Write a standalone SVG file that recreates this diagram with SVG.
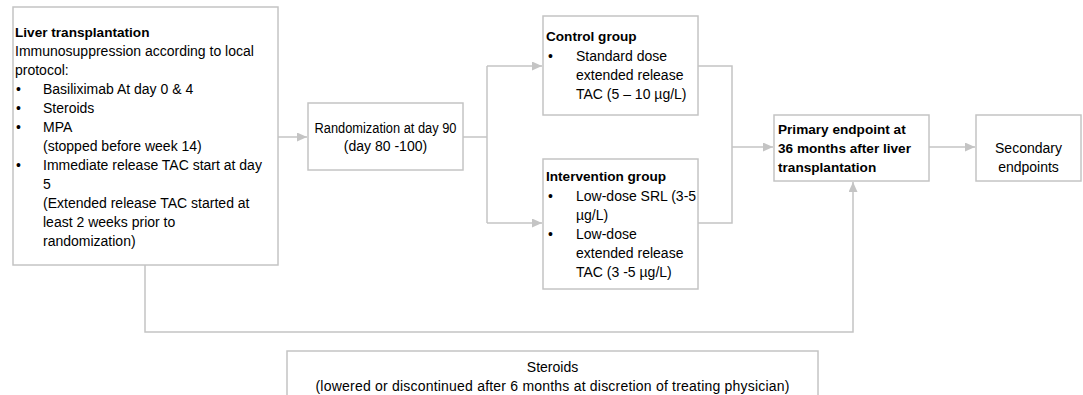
<svg xmlns="http://www.w3.org/2000/svg" width="1083" height="395" viewBox="0 0 1083 395">
<style>
.box{fill:#fff;stroke:#c4c4c4;stroke-width:1.5}
.t{font-family:"Liberation Sans",Arial,sans-serif;font-size:14px;fill:#000}
.b{font-weight:bold;font-size:13.6px}
.c{text-anchor:middle}
.con{fill:none;stroke:#c4c4c4;stroke-width:1.5}
</style>
<defs>
<marker id="ah" markerUnits="userSpaceOnUse" markerWidth="11" markerHeight="10" refX="10" refY="4.5" orient="auto">
<path d="M0,0 L10,4.5 L0,9 z" fill="#c4c4c4"/>
</marker>
</defs>
<rect width="1083" height="395" fill="#fff"/>
<g id="connectors">
<path class="con" d="M278,137 H307" marker-end="url(#ah)"/>
<path class="con" d="M463,137 H487"/>
<path class="con" d="M487,66 V223"/>
<path class="con" d="M487,66 H542" marker-end="url(#ah)"/>
<path class="con" d="M487,223 H542" marker-end="url(#ah)"/>
<path class="con" d="M698,66 H732 V223 H698"/>
<path class="con" d="M732,147 H773" marker-end="url(#ah)"/>
<path class="con" d="M929,147 H975" marker-end="url(#ah)"/>
<path class="con" d="M145,265 V332 H853 V182" marker-end="url(#ah)"/>
</g>
<g id="liver">
<rect class="box" x="13" y="7" width="265" height="258"/>
<text class="t b" x="15" y="37">Liver transplantation</text>
<text class="t" x="15" y="56">Immunosuppression according to local</text>
<text class="t" x="15" y="75">protocol:</text>
<text class="t" x="16" y="94">•</text><text class="t" x="43" y="94">Basiliximab At day 0 &amp; 4</text>
<text class="t" x="16" y="113">•</text><text class="t" x="43" y="113">Steroids</text>
<text class="t" x="16" y="132">•</text><text class="t" x="43" y="132">MPA</text>
<text class="t" x="43" y="151">(stopped before week 14)</text>
<text class="t" x="16" y="170">•</text><text class="t" x="43" y="170">Immediate release TAC start at day</text>
<text class="t" x="43" y="189">5</text>
<text class="t" x="43" y="208">(Extended release TAC started at</text>
<text class="t" x="43" y="227">least 2 weeks prior to</text>
<text class="t" x="43" y="246">randomization)</text>
</g>
<g id="randomization">
<rect class="box" x="308" y="103" width="155" height="67"/>
<text class="t c" x="385.5" y="133" textLength="142" lengthAdjust="spacingAndGlyphs">Randomization at day 90</text>
<text class="t c" x="385.5" y="151">(day 80 -100)</text>
</g>
<g id="control">
<rect class="box" x="543" y="16" width="155" height="99"/>
<text class="t b" x="546" y="41">Control group</text>
<text class="t" x="548" y="61">•</text><text class="t" x="576" y="61">Standard dose</text>
<text class="t" x="576" y="80">extended release</text>
<text class="t" x="576" y="99">TAC (5 – 10 µg/L)</text>
</g>
<g id="intervention">
<rect class="box" x="543" y="159" width="155" height="130"/>
<text class="t b" x="546" y="181">Intervention group</text>
<text class="t" x="548" y="201">•</text><text class="t" x="576" y="201">Low-dose SRL (3-5</text>
<text class="t" x="576" y="220">µg/L)</text>
<text class="t" x="548" y="239">•</text><text class="t" x="576" y="239">Low-dose</text>
<text class="t" x="576" y="258">extended release</text>
<text class="t" x="576" y="277">TAC (3 -5 µg/L)</text>
</g>
<g id="primary">
<rect class="box" x="774" y="115" width="155" height="66"/>
<text class="t b" x="778" y="134">Primary endpoint at</text>
<text class="t b" x="778" y="153">36 months after liver</text>
<text class="t b" x="778" y="172">transplantation</text>
</g>
<g id="secondary">
<rect class="box" x="976" y="115" width="105" height="66"/>
<text class="t c" x="1028.5" y="153">Secondary</text>
<text class="t c" x="1028.5" y="172">endpoints</text>
</g>
<g id="steroids">
<rect class="box" x="287" y="351" width="531" height="60"/>
<text class="t c" x="552.5" y="372">Steroids</text>
<text class="t c" x="552.5" y="391" textLength="474" lengthAdjust="spacing">(lowered or discontinued after 6 months at discretion of treating physician)</text>
</g>
</svg>
